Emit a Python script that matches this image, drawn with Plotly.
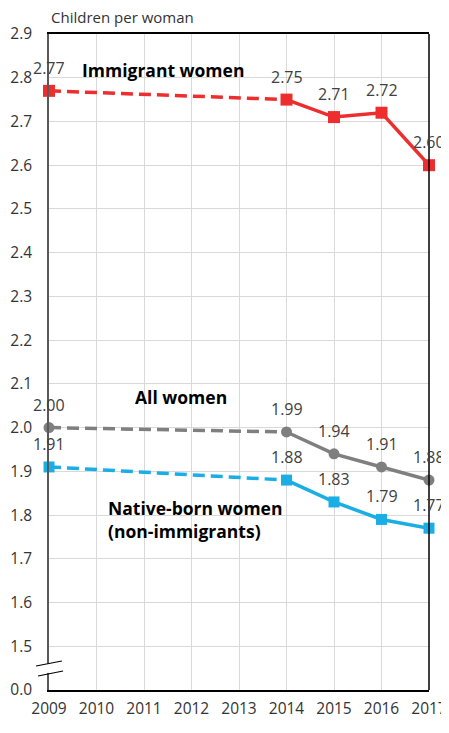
import plotly.graph_objects as go

years = [2009, 2014, 2015, 2016, 2017]
immigrant = [2.77, 2.75, 2.71, 2.72, 2.60]
all_women = [2.00, 1.99, 1.94, 1.91, 1.88]
native = [1.91, 1.88, 1.83, 1.79, 1.77]

x_ticks = list(range(2009, 2018))
y_tickvals = [1.4, 1.5, 1.6, 1.7, 1.8, 1.9, 2.0, 2.1, 2.2, 2.3, 2.4, 2.5, 2.6, 2.7, 2.8, 2.9]
y_ticktext = ["0.0", "1.5", "1.6", "1.7", "1.8", "1.9", "2.0", "2.1", "2.2", "2.3", "2.4", "2.5", "2.6", "2.7", "2.8", "2.9"]

FONT = "'Open Sans', sans-serif"
RED = "#EE2E2E"
GREY = "#7F7F7F"
BLUE = "#1BAEE5"

series = [
    (immigrant, RED, "square", 12),
    (all_women, GREY, "circle", 11),
    (native, BLUE, "square", 11),
]

fig = go.Figure()
annotations = []
for vals, color, sym, msize in series:
    fig.add_trace(go.Scatter(
        x=years[:2], y=vals[:2], mode="lines",
        line=dict(color=color, width=3.5, dash="12px,6px"),
        showlegend=False, hoverinfo="skip", cliponaxis=False))
    fig.add_trace(go.Scatter(
        x=years[1:], y=vals[1:], mode="lines",
        line=dict(color=color, width=3.5),
        showlegend=False, hoverinfo="skip", cliponaxis=False))
    fig.add_trace(go.Scatter(
        x=years, y=vals, mode="markers",
        marker=dict(color=color, symbol=sym, size=msize),
        showlegend=False, cliponaxis=False))
    for xv, yv in zip(years, vals):
        annotations.append(dict(
            x=xv, y=yv, xref="x", yref="y", text=f"{yv:.2f}",
            showarrow=False, yshift=23, font=dict(family=FONT, size=16, color="#404040")))

BOLD = dict(family=FONT, size=17.5, color="#000")
annotations += [
    dict(x=2011.4, y=2.818, xref="x", yref="y", text="<b>Immigrant women</b>",
         showarrow=False, font=BOLD),
    dict(x=2011.78, y=2.07, xref="x", yref="y", text="<b>All women</b>",
         showarrow=False, font=BOLD),
    dict(x=2010.2, y=1.79, xref="x", yref="y", xanchor="left", align="left",
         text="<b>Native-born women<br>(non-immigrants)</b>",
         showarrow=False, font=BOLD),
    dict(x=0.0, y=1.0, xref="paper", yref="paper", xanchor="left", yanchor="bottom", yshift=5,
         text="Children per woman",
         showarrow=False, font=dict(family=FONT, size=15, color="#333")),
    dict(x=0.953, y=-0.05, xref="paper", yref="paper", text="Year", xanchor="center", yanchor="top",
         showarrow=False, font=dict(family=FONT, size=13, color="#333")),
]

shapes = [
    dict(type="line", xref="paper", yref="paper", x0=1, x1=1, y0=0, y1=1,
         line=dict(color="#000", width=1.5), layer="above"),
    dict(type="rect", xref="paper", yref="paper", x0=-0.01, x1=0.01, y0=0.026, y1=0.04,
         fillcolor="white", line=dict(width=0), layer="above"),
    dict(type="line", xref="paper", yref="paper", x0=-0.034, y0=0.0366, x1=0.034, y1=0.0442,
         line=dict(color="#000", width=1.2), layer="above"),
    dict(type="line", xref="paper", yref="paper", x0=-0.029, y0=0.0213, x1=0.037, y1=0.029,
         line=dict(color="#000", width=1.2), layer="above"),
]

# page body has an 8px default margin, so the figure is offset by 8px
fig.update_layout(
    width=441, height=717,
    margin=dict(l=41, r=20, t=26, b=35, autoexpand=False),
    plot_bgcolor="white", paper_bgcolor="white",
    font=dict(family=FONT, size=15, color="#333"),
    annotations=annotations, shapes=shapes,
    xaxis=dict(range=[2009, 2017], tickvals=x_ticks, ticktext=[str(v) for v in x_ticks],
               showgrid=True, gridcolor="#D9D9D9", gridwidth=1,
               showline=True, linecolor="#000", linewidth=1.5, mirror=True,
               zeroline=False, ticks="", ticklabelstandoff=4,
               tickfont=dict(family=FONT, size=15.5, color="#333")),
    yaxis=dict(range=[1.4, 2.9], tickvals=y_tickvals, ticktext=y_ticktext,
               showgrid=True, gridcolor="#D9D9D9", gridwidth=1,
               showline=True, linecolor="#595959", linewidth=1.5,
               zeroline=False, ticks="", ticklabelstandoff=12,
               tickfont=dict(family=FONT, size=15.5, color="#333")),
)

fig.write_html("out.html")
